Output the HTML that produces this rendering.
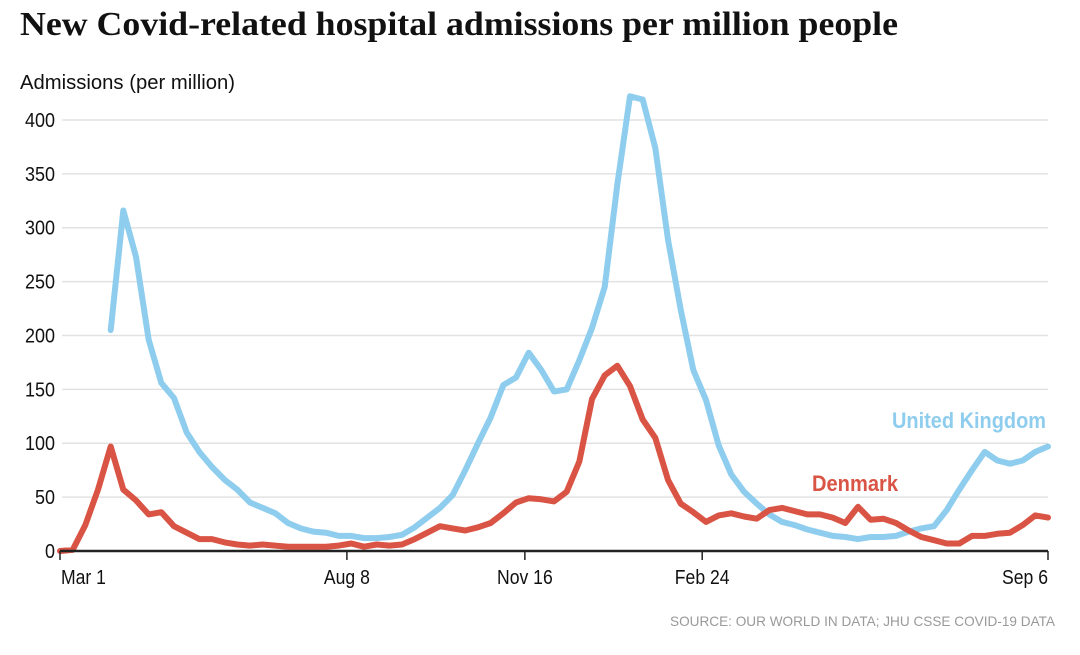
<!DOCTYPE html>
<html><head><meta charset="utf-8"><style>
body{margin:0;background:#fff;width:1080px;height:655px;overflow:hidden}
svg{display:block}
.t{font-family:"Liberation Sans Narrow","Liberation Sans",sans-serif}
</style></head><body>
<svg id="chart" width="1080" height="655">
<text x="20" y="35" font-family="Liberation Serif,serif" font-weight="bold" font-size="34" fill="#111" textLength="878" lengthAdjust="spacingAndGlyphs">New Covid-related hospital admissions per million people</text>
<text class="t" x="20" y="89" font-size="20" fill="#111" textLength="215" lengthAdjust="spacingAndGlyphs">Admissions (per million)</text>
<g id="grid"></g><g id="lines"></g><g id="xaxis"></g>
<text class="t" x="1046" y="428" text-anchor="end" font-size="22" font-weight="bold" fill="#8ecdee" textLength="154" lengthAdjust="spacingAndGlyphs">United Kingdom</text>
<text class="t" x="898" y="491" text-anchor="end" font-size="22" font-weight="bold" fill="#d95444" textLength="86" lengthAdjust="spacingAndGlyphs">Denmark</text>
<text class="t" x="1055" y="626" text-anchor="end" font-size="14" fill="#999" textLength="385" lengthAdjust="spacingAndGlyphs">SOURCE: OUR WORLD IN DATA; JHU CSSE COVID-19 DATA</text>
</svg>
<script>
const yTicks=[0,50,100,150,200,250,300,350,400];
const xTickLabels=["Mar 1","Aug 8","Nov 16","Feb 24","Sep 6"];
const xTickWeeks=[0,22.65,36.7,50.7,78];
const ukStart=4;
const uk=[205,316,273,196,156,142,110,92,78,66,57,45,40,35,26,21,18,17,14,14,12,12,13,15,22,31,40,52,75,100,124,154,161,184,168,148,150,177,207,245,340,422,419,374,289,224,168,140,98,71,55,44,34,27,24,20,17,14,13,11,13,13,14,18,21,23,38,57,75,92,84,81,84,92,97];
const dk=[0,1,24,57,97,57,47,34,36,23,17,11,11,8,6,5,6,5,4,4,4,4,5,7,4,6,5,6,11,17,23,21,19,22,26,35,45,49,48,46,55,83,141,163,172,153,122,105,66,44,36,27,33,35,32,30,38,40,37,34,34,31,26,41,29,30,26,19,13,10,7,7,14,14,16,17,24,33,31];
const NS='http://www.w3.org/2000/svg';
const X0=60,X1=1048,Y0=551,YTOP=120,NW=78;
function xs(w){return X0+(X1-X0)*w/NW;}
function ys(v){return Y0-(Y0-YTOP)*v/400;}
function mk(tag,attrs,parent){const e=document.createElementNS(NS,tag);for(const k in attrs)e.setAttribute(k,attrs[k]);parent.appendChild(e);return e;}
const grid=document.getElementById('grid'),lines=document.getElementById('lines'),xa=document.getElementById('xaxis');
yTicks.forEach(v=>{
  if(v>0){const l=mk('line',{x1:62,x2:1048,y1:ys(v),y2:ys(v),stroke:'#e2e2e2','stroke-width':1.5},grid);
  
  }
  const t=mk('text',{x:55,y:ys(v)+7,'text-anchor':'end','font-size':20,fill:'#111',class:'t',transform:'translate(55,0) scale(0.9,1) translate(-55,0)'},grid);
  t.textContent=v;
  
  
});
function path(arr,start,color,name){
  const d=arr.map((v,i)=>(i?'L':'M')+xs(start+i).toFixed(1)+','+ys(v).toFixed(1)).join('');
  const p=mk('path',{d:d,fill:'none',stroke:color,'stroke-width':6,'stroke-linejoin':'round','stroke-linecap':'round'},lines);
  
  
}
path(uk,ukStart,'#8ecdee','uk-line');
path(dk,0,'#d95444','denmark-line');
const ax=mk('line',{x1:60,x2:1048,y1:Y0,y2:Y0,stroke:'#222','stroke-width':2.5},xa);


xTickWeeks.forEach((w,i)=>{
  const x=xs(w);
  const tk=mk('line',{x1:x,x2:x,y1:Y0,y2:Y0+9,stroke:'#222','stroke-width':1.5},xa);
  
  
  const anchor=i==0?'start':(i==xTickWeeks.length-1?'end':'middle');
  const tx=i==0?x+1:x;
  const t=mk('text',{x:tx,y:584,'text-anchor':anchor,'font-size':20,fill:'#111',class:'t',transform:`translate(${tx},0) scale(0.88,1) translate(${-tx},0)`},xa);
  t.textContent=xTickLabels[i];
  
  
});
</script>
</body></html>
